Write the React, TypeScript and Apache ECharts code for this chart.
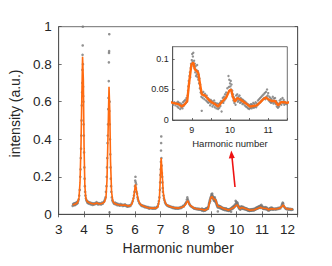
import React, { useEffect, useRef } from "react";
import * as echarts from "echarts";

// Smoothed curve (orange line): [harmonic number, intensity]
const smoothCurve: number[][] = [
  [3.55, 0.05], [3.6, 0.052], [3.65, 0.055], [3.7, 0.058], [3.75, 0.065], [3.8, 0.09], [3.84, 0.17], [3.88, 0.38],
  [3.91, 0.62], [3.94, 0.84], [3.97, 0.72], [4.0, 0.35], [4.03, 0.15], [4.07, 0.085], [4.12, 0.068], [4.2, 0.062],
  [4.3, 0.058], [4.4, 0.055], [4.5, 0.06], [4.6, 0.055], [4.7, 0.058], [4.8, 0.065], [4.86, 0.09], [4.9, 0.18],
  [4.94, 0.42], [4.98, 0.68], [5.01, 0.55], [5.04, 0.28], [5.08, 0.12], [5.13, 0.07], [5.2, 0.058], [5.3, 0.052],
  [5.4, 0.05], [5.5, 0.048], [5.6, 0.05], [5.7, 0.045], [5.8, 0.045], [5.88, 0.055], [5.95, 0.09], [6.02, 0.16],
  [6.07, 0.12], [6.13, 0.075], [6.2, 0.055], [6.3, 0.045], [6.4, 0.04], [6.5, 0.035], [6.6, 0.033], [6.7, 0.033],
  [6.8, 0.032], [6.9, 0.038], [6.96, 0.08], [7.0, 0.2], [7.03, 0.3], [7.07, 0.22], [7.11, 0.12], [7.16, 0.075],
  [7.22, 0.055], [7.3, 0.045], [7.4, 0.04], [7.5, 0.036], [7.6, 0.034], [7.7, 0.033], [7.8, 0.035], [7.9, 0.04],
  [7.98, 0.05], [8.04, 0.065], [8.08, 0.072], [8.13, 0.055], [8.2, 0.045], [8.3, 0.035], [8.4, 0.03], [8.5, 0.028],
  [8.65, 0.026], [8.74, 0.022], [8.82, 0.026], [8.88, 0.031], [8.93, 0.061], [8.99, 0.091], [9.04, 0.094], [9.08, 0.083],
  [9.13, 0.08], [9.17, 0.077], [9.21, 0.061], [9.26, 0.042], [9.35, 0.04], [9.43, 0.034], [9.52, 0.029], [9.61, 0.026],
  [9.69, 0.022], [9.78, 0.029], [9.9, 0.037], [9.98, 0.048], [10.03, 0.05], [10.07, 0.039], [10.13, 0.03], [10.19, 0.036],
  [10.26, 0.034], [10.35, 0.03], [10.44, 0.026], [10.52, 0.022], [10.61, 0.023], [10.7, 0.024], [10.79, 0.029], [10.87, 0.034],
  [10.94, 0.037], [11.0, 0.034], [11.09, 0.031], [11.18, 0.031], [11.26, 0.024], [11.33, 0.029], [11.41, 0.029], [11.5, 0.028],
  [11.6, 0.03], [11.7, 0.033], [11.78, 0.04], [11.83, 0.05], [11.88, 0.04], [11.95, 0.03], [12.05, 0.028], [12.15, 0.027],
  [12.2, 0.028],
];

// Measured points (grey dots): [harmonic number, intensity]
const measured: number[][] = [
  [3.55, 0.045], [3.57, 0.055], [3.59, 0.05], [3.61, 0.058], [3.63, 0.048], [3.65, 0.06], [3.67, 0.052], [3.69, 0.062],
  [3.71, 0.055], [3.73, 0.066], [3.75, 0.06], [3.77, 0.072], [3.79, 0.08], [3.81, 0.1], [3.83, 0.13], [3.85, 0.2],
  [3.86, 0.24], [3.87, 0.3], [3.88, 0.35], [3.89, 0.42], [3.9, 0.5], [3.91, 0.58], [3.92, 0.65], [3.93, 0.7],
  [3.935, 0.77], [3.94, 0.85], [3.945, 0.9], [3.95, 1.0], [3.955, 0.8], [3.96, 0.68], [3.965, 0.63], [3.97, 0.6],
  [3.98, 0.48], [3.99, 0.42], [4.0, 0.33], [4.01, 0.25], [4.02, 0.19], [4.03, 0.15], [4.04, 0.12], [4.05, 0.1],
  [4.07, 0.085], [4.09, 0.075], [4.11, 0.07], [4.13, 0.062], [4.15, 0.068], [4.17, 0.058], [4.19, 0.065], [4.22, 0.055],
  [4.25, 0.062], [4.28, 0.052], [4.31, 0.06], [4.34, 0.05], [4.37, 0.058], [4.4, 0.052], [4.43, 0.06], [4.46, 0.055],
  [4.49, 0.065], [4.52, 0.058], [4.55, 0.052], [4.58, 0.06], [4.61, 0.054], [4.64, 0.058], [4.67, 0.052], [4.7, 0.062],
  [4.73, 0.056], [4.76, 0.064], [4.79, 0.07], [4.82, 0.08], [4.84, 0.09], [4.86, 0.12], [4.88, 0.15], [4.89, 0.2],
  [4.9, 0.25], [4.91, 0.3], [4.92, 0.38], [4.93, 0.42], [4.94, 0.48], [4.95, 0.56], [4.96, 0.62], [4.97, 0.71],
  [4.975, 0.81], [4.98, 0.86], [4.985, 0.87], [4.99, 0.96], [4.995, 0.55], [5.0, 0.01], [5.005, 0.6], [5.01, 0.48],
  [5.02, 0.4], [5.03, 0.32], [5.04, 0.25], [5.05, 0.19], [5.06, 0.15], [5.07, 0.12], [5.09, 0.09], [5.11, 0.075],
  [5.13, 0.068], [5.16, 0.06], [5.19, 0.055], [5.22, 0.062], [5.25, 0.052], [5.28, 0.058], [5.31, 0.048], [5.34, 0.055],
  [5.37, 0.05], [5.4, 0.046], [5.43, 0.055], [5.46, 0.048], [5.49, 0.052], [5.52, 0.044], [5.55, 0.05], [5.58, 0.046],
  [5.61, 0.053], [5.64, 0.045], [5.67, 0.048], [5.7, 0.04], [5.73, 0.046], [5.76, 0.042], [5.79, 0.048], [5.82, 0.044],
  [5.85, 0.052], [5.88, 0.06], [5.91, 0.07], [5.94, 0.085], [5.96, 0.1], [5.98, 0.12], [6.0, 0.15], [6.01, 0.18],
  [6.02, 0.2], [6.03, 0.17], [6.04, 0.14], [6.05, 0.16], [6.06, 0.12], [6.08, 0.11], [6.1, 0.09], [6.12, 0.08],
  [6.14, 0.07], [6.17, 0.06], [6.2, 0.055], [6.23, 0.05], [6.26, 0.045], [6.29, 0.048], [6.32, 0.042], [6.35, 0.045],
  [6.38, 0.038], [6.41, 0.042], [6.44, 0.036], [6.47, 0.04], [6.5, 0.034], [6.53, 0.038], [6.56, 0.03], [6.59, 0.036],
  [6.62, 0.032], [6.65, 0.035], [6.68, 0.03], [6.71, 0.034], [6.74, 0.03], [6.77, 0.036], [6.8, 0.03], [6.83, 0.034],
  [6.86, 0.038], [6.89, 0.042], [6.92, 0.055], [6.94, 0.07], [6.96, 0.09], [6.98, 0.13], [6.99, 0.17], [7.0, 0.21],
  [7.01, 0.24], [7.02, 0.28], [7.025, 0.34], [7.03, 0.38], [7.035, 0.415], [7.04, 0.3], [7.05, 0.26], [7.06, 0.22],
  [7.07, 0.2], [7.08, 0.17], [7.09, 0.14], [7.1, 0.12], [7.12, 0.1], [7.14, 0.085], [7.16, 0.075], [7.18, 0.065],
  [7.2, 0.058], [7.23, 0.052], [7.26, 0.048], [7.29, 0.044], [7.32, 0.046], [7.35, 0.04], [7.38, 0.042], [7.41, 0.038],
  [7.44, 0.04], [7.47, 0.034], [7.5, 0.038], [7.53, 0.032], [7.56, 0.036], [7.59, 0.03], [7.62, 0.035], [7.65, 0.03],
  [7.68, 0.034], [7.71, 0.03], [7.74, 0.036], [7.77, 0.032], [7.8, 0.038], [7.83, 0.034], [7.86, 0.04], [7.89, 0.045],
  [7.92, 0.042], [7.95, 0.05], [7.98, 0.055], [8.0, 0.06], [8.02, 0.065], [8.04, 0.078], [8.06, 0.09], [8.08, 0.08],
  [8.1, 0.07], [8.12, 0.062], [8.14, 0.055], [8.16, 0.05], [8.18, 0.046], [8.21, 0.042], [8.24, 0.04], [8.27, 0.036],
  [8.3, 0.034], [8.33, 0.03], [8.36, 0.033], [8.39, 0.028], [8.42, 0.031], [8.45, 0.026], [8.48, 0.03], [8.51, 0.025],
  [8.54, 0.029], [8.57, 0.024], [8.6, 0.028],
  [8.62, 0.022], [8.635, 0.03], [8.65, 0.02], [8.665, 0.028], [8.68, 0.024], [8.695, 0.018], [8.71, 0.027], [8.725, 0.021],
  [8.74, 0.025], [8.755, 0.019], [8.77, 0.029], [8.785, 0.023], [8.8, 0.031], [8.815, 0.026], [8.83, 0.033], [8.845, 0.028],
  [8.86, 0.036], [8.875, 0.03], [8.89, 0.04], [8.9, 0.048], [8.91, 0.055], [8.92, 0.064], [8.93, 0.06], [8.94, 0.072],
  [8.95, 0.078], [8.96, 0.07], [8.97, 0.085], [8.98, 0.092], [8.99, 0.088], [9.0, 0.098], [9.01, 0.108], [9.02, 0.095],
  [9.03, 0.104], [9.04, 0.11], [9.05, 0.09], [9.06, 0.097], [9.07, 0.085], [9.08, 0.092], [9.09, 0.078], [9.1, 0.088],
  [9.11, 0.072], [9.12, 0.082], [9.13, 0.075], [9.14, 0.09], [9.15, 0.07], [9.16, 0.08], [9.17, 0.066], [9.18, 0.074],
  [9.19, 0.06], [9.2, 0.068], [9.21, 0.052], [9.22, 0.058], [9.23, 0.045], [9.24, 0.05], [9.25, 0.038], [9.26, 0.015],
  [9.27, 0.044], [9.285, 0.036], [9.3, 0.046], [9.315, 0.04], [9.33, 0.034], [9.345, 0.043], [9.36, 0.038], [9.375, 0.032],
  [9.39, 0.04], [9.405, 0.03], [9.42, 0.036], [9.435, 0.028], [9.45, 0.034], [9.465, 0.03], [9.48, 0.024], [9.495, 0.033],
  [9.51, 0.027], [9.525, 0.031], [9.54, 0.022], [9.555, 0.029], [9.57, 0.025], [9.585, 0.032], [9.6, 0.021], [9.615, 0.028],
  [9.63, 0.024], [9.645, 0.019], [9.66, 0.027], [9.675, 0.022], [9.69, 0.018], [9.705, 0.026], [9.72, 0.02], [9.735, 0.028],
  [9.75, 0.023], [9.765, 0.031], [9.78, 0.014], [9.795, 0.03], [9.81, 0.036], [9.825, 0.028], [9.84, 0.038], [9.855, 0.032],
  [9.87, 0.042], [9.885, 0.035], [9.9, 0.045], [9.915, 0.04], [9.93, 0.052], [9.945, 0.044], [9.96, 0.072], [9.97, 0.054],
  [9.98, 0.066], [9.99, 0.048], [10.0, 0.06], [10.01, 0.055], [10.02, 0.064], [10.03, 0.05], [10.04, 0.058], [10.05, 0.044],
  [10.06, 0.048], [10.07, 0.038], [10.08, 0.042], [10.09, 0.032], [10.1, 0.037], [10.115, 0.028], [10.13, 0.034], [10.145, 0.025],
  [10.16, 0.04], [10.175, 0.033], [10.19, 0.042], [10.205, 0.03], [10.22, 0.038], [10.235, 0.032], [10.25, 0.04], [10.265, 0.028],
  [10.28, 0.036], [10.295, 0.03], [10.31, 0.034], [10.325, 0.026], [10.34, 0.033], [10.355, 0.027], [10.37, 0.031], [10.385, 0.024],
  [10.4, 0.03], [10.415, 0.022], [10.43, 0.028], [10.445, 0.021], [10.46, 0.026], [10.475, 0.019], [10.49, 0.025], [10.505, 0.018],
  [10.52, 0.024], [10.535, 0.02], [10.55, 0.026], [10.565, 0.019], [10.58, 0.025], [10.595, 0.021], [10.61, 0.028], [10.625, 0.02],
  [10.64, 0.026], [10.655, 0.022], [10.67, 0.029], [10.685, 0.021], [10.7, 0.027], [10.715, 0.024], [10.73, 0.032], [10.745, 0.026],
  [10.76, 0.034], [10.775, 0.028], [10.79, 0.036], [10.805, 0.03], [10.82, 0.038], [10.835, 0.032], [10.85, 0.04], [10.865, 0.034],
  [10.88, 0.042], [10.895, 0.036], [10.91, 0.044], [10.925, 0.034], [10.94, 0.046], [10.955, 0.038], [10.97, 0.05], [10.985, 0.04],
  [11.0, 0.044], [11.015, 0.032], [11.03, 0.038], [11.045, 0.03], [11.06, 0.036], [11.075, 0.028], [11.09, 0.034], [11.105, 0.03],
  [11.12, 0.038], [11.135, 0.027], [11.15, 0.035], [11.165, 0.029], [11.18, 0.036], [11.195, 0.026], [11.21, 0.031], [11.225, 0.022],
  [11.24, 0.028], [11.255, 0.02], [11.27, 0.026], [11.285, 0.022], [11.3, 0.032], [11.315, 0.026], [11.33, 0.034], [11.345, 0.025],
  [11.36, 0.03], [11.375, 0.036], [11.39, 0.028], [11.405, 0.033], [11.42, 0.025], [11.435, 0.03], [11.45, 0.027],
  [11.48, 0.026], [11.51, 0.031], [11.54, 0.025], [11.57, 0.032], [11.6, 0.027], [11.63, 0.034], [11.66, 0.029], [11.69, 0.036],
  [11.72, 0.031], [11.75, 0.04], [11.77, 0.048], [11.79, 0.055], [11.81, 0.062], [11.83, 0.058], [11.85, 0.046], [11.87, 0.04],
  [11.9, 0.034], [11.93, 0.03], [11.96, 0.027], [11.99, 0.032], [12.02, 0.025], [12.05, 0.03], [12.08, 0.024], [12.11, 0.029],
  [12.14, 0.023], [12.17, 0.028], [12.2, 0.025],
];

const mainXTicks = [3, 12.4, 1];
const mainYTicks = [0, 1, 0.2];
const insetXTicks = [8.5, 11.5, 0.5];
const insetYTicks = [0, 0.12, 0.05];

const mainXLabel = "Harmonic number";
const mainYLabel = "intensity (a.u.)";
const insetXLabel = "Harmonic number";

const FONT = "Liberation Sans";
const TXT = "#262626";
const AX = "#4a4a4a";
const ORANGE = "#ff6a10";
const GREY = "#777777";

export default function App() {
  const ref = useRef<HTMLDivElement>(null);
  useEffect(() => {
    if (!ref.current) return;
    const chart = echarts.init(ref.current, null, { renderer: "svg" });
    const intFmt = (v: number) => (Math.abs(v - Math.round(v)) < 1e-9 ? String(Math.round(v)) : "");
    const axisLine = { show: true, lineStyle: { color: AX, width: 0.8 } };
    const tickIn = (len: number) => ({ show: true, inside: true, length: len, lineStyle: { color: AX, width: 0.8 } });
    const option: any = {
      animation: false,
      backgroundColor: "#fff",
      grid: [
        { left: 46.7, top: 26.7, width: 251, height: 187.6, show: true, borderColor: AX, borderWidth: 0.8, backgroundColor: "#fff" },
        { left: 172.7, top: 46.7, width: 114.6, height: 73.3, show: true, borderColor: AX, borderWidth: 0.8, backgroundColor: "#fff" },
      ],
      xAxis: [
        {
          gridIndex: 0, type: "value", min: mainXTicks[0], max: mainXTicks[1], interval: mainXTicks[2],
          name: mainXLabel, nameLocation: "middle", nameGap: 26,
          nameTextStyle: { fontFamily: FONT, fontSize: 14, color: TXT },
          axisLine, axisTick: tickIn(3), splitLine: { show: false },
          axisLabel: { formatter: intFmt, fontFamily: FONT, fontSize: 13.5, color: TXT, margin: 8, showMaxLabel: false },
        },
        {
          gridIndex: 0, type: "value", position: "top", min: mainXTicks[0], max: mainXTicks[1], interval: mainXTicks[2],
          axisLine, axisTick: tickIn(3), axisLabel: { show: false }, splitLine: { show: false },
        },
        {
          gridIndex: 1, type: "value", min: insetXTicks[0], max: insetXTicks[1], interval: insetXTicks[2],
          name: insetXLabel, nameLocation: "middle", nameGap: 18,
          nameTextStyle: { fontFamily: FONT, fontSize: 9.5, color: TXT },
          axisLine, axisTick: tickIn(2), splitLine: { show: false },
          axisLabel: { formatter: intFmt, fontFamily: FONT, fontSize: 9, color: TXT, margin: 5 },
        },
      ],
      yAxis: [
        {
          gridIndex: 0, type: "value", min: mainYTicks[0], max: mainYTicks[1], interval: mainYTicks[2],
          name: mainYLabel, nameLocation: "middle", nameGap: 28,
          nameTextStyle: { fontFamily: FONT, fontSize: 14, color: TXT, padding: [0, 0, 0, 14] },
          axisLine, axisTick: tickIn(3), splitLine: { show: false },
          axisLabel: { fontFamily: FONT, fontSize: 13.5, color: TXT, margin: 7 },
        },
        {
          gridIndex: 0, type: "value", position: "right", min: mainYTicks[0], max: mainYTicks[1], interval: mainYTicks[2],
          axisLine, axisTick: tickIn(3), axisLabel: { show: false }, splitLine: { show: false },
        },
        {
          gridIndex: 1, type: "value", min: insetYTicks[0], max: insetYTicks[1], interval: insetYTicks[2],
          axisLine, axisTick: tickIn(2), splitLine: { show: false },
          axisLabel: { fontFamily: FONT, fontSize: 9, color: TXT, margin: 4, showMaxLabel: false },
        },
      ],
      series: [
        {
          type: "scatter", xAxisIndex: 0, yAxisIndex: 0, data: measured, symbolSize: 2.6,
          itemStyle: { color: GREY }, clip: true, silent: true, z: 2,
        },
        {
          type: "line", xAxisIndex: 0, yAxisIndex: 0, data: smoothCurve, showSymbol: false,
          lineStyle: { color: ORANGE, width: 1.6 }, clip: true, silent: true, z: 3,
        },
        {
          type: "scatter", xAxisIndex: 2, yAxisIndex: 2, data: measured, symbolSize: 2.4,
          itemStyle: { color: GREY }, clip: true, silent: true, z: 4,
        },
        {
          type: "line", xAxisIndex: 2, yAxisIndex: 2, data: smoothCurve, showSymbol: false,
          lineStyle: { color: ORANGE, width: 2.4 }, clip: true, silent: true, z: 5,
        },
      ],
      graphic: [
        { type: "line", shape: { x1: 235, y1: 187, x2: 232, y2: 157 }, style: { stroke: "#ee1111", lineWidth: 1.6 }, z: 10 },
        { type: "polygon", shape: { points: [[231.3, 150.5], [228.8, 158.5], [234.8, 158]] }, style: { fill: "#ee1111" }, z: 10 },
      ],
    };
    chart.setOption(option);
    return () => chart.dispose();
  }, []);
  return <div ref={ref} style={{ position: "fixed", left: 0, top: 0, width: 332, height: 266 }} />;
}
